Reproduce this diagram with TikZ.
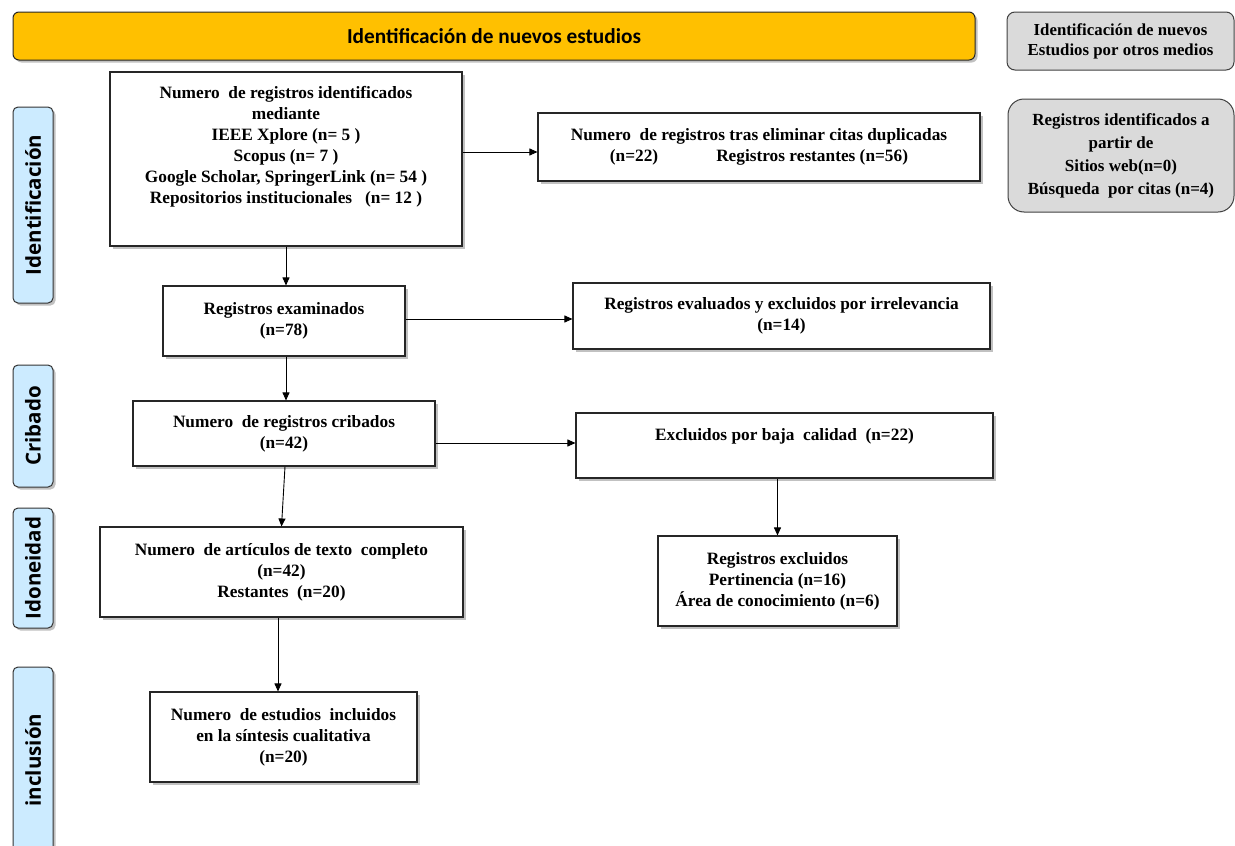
\documentclass[tikz,border=0pt]{standalone}
\usepackage{fontspec}
\setmainfont{Liberation Serif}
\newfontfamily\barfont{Carlito}
\newfontfamily\labfont{Open Sans}
\usetikzlibrary{arrows.meta,shadows}
\newcommand\myboxfont{\fontsize{17.3}{21}\selectfont\bfseries}
\definecolor{barorange}{HTML}{FFC000}
\definecolor{labblue}{HTML}{CCEBFF}
\definecolor{boxgray}{HTML}{DADADA}
\tikzset{
  shad/.style={drop shadow={shadow xshift=2.5pt,shadow yshift=-2.5pt,opacity=0.35,fill=black!70}},
  pbox/.style={draw=black!85, line width=1.1pt, fill=white, shad, align=center, font=\myboxfont, inner sep=0pt},
  ptext/.style={align=center, font=\myboxfont, inner sep=0pt},
  graybox/.style={draw=black!75, line width=1pt, fill=boxgray, align=center, inner sep=0pt},
  labbox/.style={draw=black!80, line width=1pt, fill=labblue, rounded corners=5pt, shad, inner sep=0pt, minimum width=40pt, font=\labfont\fontsize{20.5}{22}\selectfont\bfseries},
  arr/.style={-{Triangle[length=8pt,width=7pt]}, line width=0.9pt}
}
\begin{document}
\begin{tikzpicture}[x=1pt,y=-1pt]
\useasboundingbox (0,0) rectangle (1235,846);
% header bar
\node[draw=black!85, line width=1pt, fill=barorange, rounded corners=6pt, shad, minimum width=962pt, minimum height=48pt, inner sep=0pt, font=\barfont\fontsize{21.3}{23}\selectfont\bfseries] (bar) at (494,36) {Identificación de nuevos estudios};
% right gray boxes
\node[graybox, rounded corners=8pt, minimum width=227pt, minimum height=58pt, font=\fontsize{16.8}{20}\selectfont\bfseries] (g1) at (1120.5,41) {Identificación de nuevos\\Estudios por otros medios};
\node[graybox, rounded corners=16pt, minimum width=226pt, minimum height=113pt, font=\fontsize{17}{23}\selectfont\bfseries] (g2) at (1121,155.5) {Registros identificados a\\partir de\\Sitios web(n=0)\\Búsqueda\ \ por citas (n=4)};
% left labels
\node[labbox, minimum height=196pt] (l1) at (33,205) {\rotatebox{90}{Identificación}};
\node[labbox, minimum height=122pt] (l2) at (33,426) {\rotatebox{90}{Cribado}};
\node[labbox, minimum height=120pt] (l3) at (33,568) {\rotatebox{90}{Idoneidad}};
\node[labbox, minimum height=186pt] (l4) at (33,760) {\rotatebox{90}{inclusión}};
% main boxes
\node[pbox, minimum width=352pt, minimum height=174pt] (A) at (286,159) {};
\node[ptext] (At) at (286,147) {Numero\ \ de registros identificados\\mediante\\IEEE Xplore (n= 5 )\\Scopus (n= 7 )\\Google Scholar, SpringerLink (n= 54 )\\Repositorios institucionales\ \ \ (n= 12 )};
\node[pbox, minimum width=442pt, minimum height=68pt] (B) at (759,147) {Numero\ \ de registros tras eliminar citas duplicadas\\(n=22)\hspace{58pt}Registros restantes (n=56)};
\node[pbox, minimum width=242pt, minimum height=70pt] (C) at (284,321) {Registros examinados\\(n=78)};
\node[pbox, minimum width=417pt, minimum height=66pt] (D) at (781.5,316) {Registros evaluados y excluidos por irrelevancia\\(n=14)};
\node[pbox, minimum width=302pt, minimum height=65pt] (E) at (284,433.5) {Numero\ \ de registros cribados\\(n=42)};
\node[pbox, minimum width=417pt, minimum height=65pt] (F) at (784.5,445.5) {};
\node[ptext] (Ft) at (784.5,436) {Excluidos por baja\ \ calidad\ \ (n=22)};
\node[pbox, minimum width=363pt, minimum height=90pt] (G) at (281.5,572) {Numero\ \ de artículos de texto\ \ completo\\(n=42)\\Restantes\ \ (n=20)};
\node[pbox, minimum width=239pt, minimum height=90pt] (H) at (777.5,581) {Registros excluidos\\Pertinencia (n=16)\\Área de conocimiento (n=6)};
\node[pbox, minimum width=267pt, minimum height=90pt] (I) at (283.5,737) {Numero\ \ de estudios\ \ incluidos\\en la síntesis cualitativa\\(n=20)};
% connectors
\draw[arr] ([yshift=7pt]A.east) -- ([yshift=7pt]A.east -| B.west);
\draw[arr] (A.south) -- (A.south |- C.north);
\draw[arr] ([yshift=2pt]C.east) -- ([yshift=2pt]C.east -| D.west);
\draw[arr] ([xshift=2pt]C.south) -- ([xshift=2pt]C.south |- E.north);
\draw[arr] ([yshift=-9.5pt]E.east) -- ([yshift=-9.5pt]E.east -| F.west);
\draw[arr] ([xshift=1pt]E.south) -- (G.north);
\draw[arr] (H.north |- F.south) -- (H.north);
\draw[arr] ([xshift=-3.5pt]G.south) -- ([xshift=-3.5pt]G.south |- I.north);
\end{tikzpicture}
\end{document}
